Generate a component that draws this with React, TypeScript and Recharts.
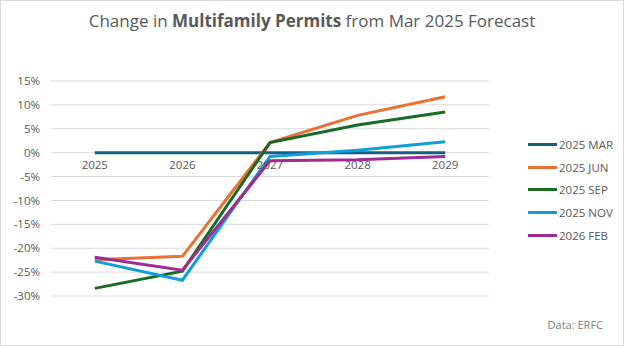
import { LineChart, Line, XAxis, YAxis, CartesianGrid } from "recharts";

const years = ["2025", "2026", "2027", "2028", "2029"];
const mar2025 = [0, 0, 0, 0, 0];
const jun2025 = [-22.4, -21.7, 2.1, 7.8, 11.7];
const sep2025 = [-28.4, -24.8, 2.1, 5.8, 8.5];
const nov2025 = [-22.7, -26.7, -0.8, 0.5, 2.3];
const feb2026 = [-21.9, -24.6, -1.7, -1.5, -0.8];
const yTicks = [15, 10, 5, 0, -5, -10, -15, -20, -25, -30];

const seriesList = [
  { key: "mar", name: "2025 MAR", color: "#156082", values: mar2025 },
  { key: "jun", name: "2025 JUN", color: "#E97132", values: jun2025 },
  { key: "sep", name: "2025 SEP", color: "#196B24", values: sep2025 },
  { key: "nov", name: "2025 NOV", color: "#0F9ED5", values: nov2025 },
  { key: "feb", name: "2026 FEB", color: "#A02B93", values: feb2026 },
];

const chartData = years.map((year, i) => {
  const row: Record<string, string | number> = { year };
  seriesList.forEach((s) => {
    row[s.key] = s.values[i];
  });
  return row;
});

const W = 624;
const H = 346;
const PLOT_TOP = 81;
const PLOT_BOTTOM = 296;
const PLOT_LEFT = 51;
const PLOT_RIGHT = 489;
const Y_MIN = -30;
const Y_MAX = 15;
const FONT = "'Open Sans', 'Noto Sans', sans-serif";
const GREY = "#595959";

// half a category band on each side, so points sit mid-band like Excel
const halfBand = (PLOT_RIGHT - PLOT_LEFT) / years.length / 2;

// x labels sit just under the zero line, like Excel's axis crossing
const zeroY = PLOT_TOP + ((Y_MAX - 0) / (Y_MAX - Y_MIN)) * (PLOT_BOTTOM - PLOT_TOP);

const YearTick = (props: any) => {
  const { x, payload } = props;
  return (
    <text x={x} y={zeroY + 16} textAnchor="middle" fill={GREY} fontSize={11.5} fontFamily={FONT}>
      {payload.value}
    </text>
  );
};

export default function App() {
  return (
    <div
      style={{
        position: "absolute",
        left: 0,
        top: 0,
        width: W,
        height: H,
        boxSizing: "border-box",
        border: "1px solid #d9d9d9",
        background: "#fff",
        fontFamily: FONT,
      }}
    >
      <div
        style={{
          position: "absolute",
          top: 8,
          left: 0,
          width: "100%",
          textAlign: "center",
          fontSize: 17,
          color: GREY,
        }}
      >
        Change in <b>Multifamily Permits</b> from Mar 2025 Forecast
      </div>
      <div style={{ position: "absolute", left: -1, top: -1 }}>
        <LineChart
          width={W}
          height={H}
          data={chartData}
          margin={{ top: PLOT_TOP, bottom: H - PLOT_BOTTOM - 30, left: PLOT_LEFT - 40, right: W - PLOT_RIGHT }}
        >
          <CartesianGrid vertical={false} stroke="#d9d9d9" strokeWidth={1} />
          <XAxis
            dataKey="year"
            axisLine={false}
            tickLine={false}
            height={30}
            interval={0}
            padding={{ left: halfBand, right: halfBand }}
            tick={<YearTick />}
          />
          <YAxis
            type="number"
            domain={[Y_MIN, Y_MAX]}
            ticks={yTicks}
            interval={0}
            width={40}
            axisLine={false}
            tickLine={false}
            tickSize={0}
            tickMargin={11}
            tickFormatter={(v: number) => `${v}%`}
            tick={{ fill: GREY, fontSize: 11.5, fontFamily: FONT }}
          />
          {seriesList.map((s) => (
            <Line
              key={s.key}
              dataKey={s.key}
              name={s.name}
              stroke={s.color}
              strokeWidth={3}
              dot={false}
              activeDot={false}
              type="linear"
              isAnimationActive={false}
            />
          ))}
        </LineChart>
      </div>
      <div
        style={{
          position: "absolute",
          left: 527,
          top: 132,
          fontSize: 11.5,
          color: GREY,
        }}
      >
        {seriesList.map((s) => (
          <div key={s.key} style={{ display: "flex", alignItems: "center", height: 22.8 }}>
            <span
              style={{ width: 29, height: 3, background: s.color, display: "inline-block", marginRight: 2 }}
            />
            <span>{s.name}</span>
          </div>
        ))}
      </div>
      <div
        style={{
          position: "absolute",
          right: 20,
          top: 316,
          fontSize: 11,
          color: "#808080",
        }}
      >
        Data: ERFC
      </div>
    </div>
  );
}
